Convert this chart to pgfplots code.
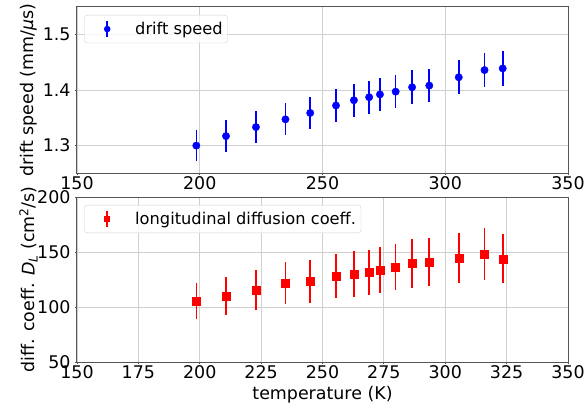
\documentclass[border=0pt]{standalone}
\usepackage{fontspec}
\setmainfont{DejaVu Sans}
\usepackage{pgfplots}
\pgfplotsset{compat=1.18}
\usepackage{pgfplotstable}

\pgfplotstableread{
x y e
198.6 1.2995 0.0285
210.7 1.3167 0.0288
222.9 1.3330 0.0290
234.9 1.3470 0.0292
245.0 1.3585 0.0294
255.5 1.3720 0.0296
262.8 1.3815 0.0298
269.0 1.3870 0.0299
273.4 1.3920 0.0300
279.8 1.3970 0.0301
286.5 1.4050 0.0303
293.5 1.4080 0.0304
305.5 1.4230 0.0306
316.0 1.4360 0.0310
323.4 1.4390 0.0310
}\driftdata

\pgfplotstableread{
x y e
198.6 105.5 16.6
210.7 109.7 17.3
222.9 115.5 17.9
234.9 121.5 19.0
245.0 123.3 19.4
255.5 127.9 20.0
262.8 130.0 20.6
269.0 131.5 20.6
273.4 133.6 21.0
279.8 136.4 21.2
286.5 139.4 22.0
293.5 140.9 22.0
305.5 144.5 22.6
316.0 148.2 23.2
323.4 143.9 22.4
}\diffdata

\definecolor{frame}{HTML}{555555}
\definecolor{gridc}{HTML}{CFCFCF}
\newcommand\tickfont{\fontsize{17.5}{20}\selectfont}
\newcommand\labfont{\fontsize{17.5}{20}\selectfont}
\newcommand\legfont{\fontsize{16.3}{19}\selectfont}

\pgfplotsset{
  common/.style={
    scale only axis,
    width=491bp,
    xmin=150, xmax=350,
    axis line style={frame, line width=1bp},
    grid=major,
    major grid style={gridc, line width=0.8bp},
    tick align=outside,
    major tick length=2bp,
    tick style={frame, line width=0.8bp},
    xtick pos=bottom, ytick pos=left,
    tick label style={font=\tickfont, text=black},
    xticklabel style={yshift=2bp},
    yticklabel style={xshift=-1bp},
    legend cell align=left,
    legend style={
      at={(axis description cs:0.0143,0.952)}, anchor=north west,
      draw=black!18, rounded corners=3bp, fill=white, fill opacity=0.8,
      text opacity=1, inner xsep=3bp, inner ysep=5bp, font=\legfont
    },
  }
}

\begin{document}
\begin{tikzpicture}
\path[use as bounding box] (-77bp,7bp) rectangle (507bp,-402bp);

\begin{axis}[
  common,
  at={(0bp,0bp)}, anchor=north west,
  height=166bp,
  ymin=1.25, ymax=1.55,
  xtick={150,200,250,300,350},
  xticklabels={150,200,250,300,350},
  ytick={1.3,1.4,1.5},
  yticklabels={1.3,1.4,1.5},
  ylabel={drift speed (mm/\textit{μ}s)},
  every axis y label/.style={at={(axis description cs:-0.099,0.5)}, rotate=90, anchor=center, font=\labfont},
]
\addplot[only marks, mark=*, color=blue, mark size=3.7bp,
  mark options={draw=blue, fill=blue},
  legend image code/.code={
    \path[draw=none, fill=none] (0bp,-8bp) rectangle (46bp,8bp);
    \draw[blue, line width=1.6bp, fill opacity=1, draw opacity=1] (20bp,-8bp) -- (20bp,8bp);
    \fill[blue, fill opacity=1, draw=none] (20bp,0bp) circle (3.3bp);
  },
  error bars/.cd, y dir=both, y explicit, error mark=none,
  error bar style={line width=1.6bp, blue}]
  table[x=x, y=y, y error=e] {\driftdata};
\addlegendentry{drift speed}
\end{axis}

\begin{axis}[
  common,
  at={(0bp,-190bp)}, anchor=north west,
  height=165bp,
  ymin=50, ymax=200,
  xtick={150,175,200,225,250,275,300,325,350},
  xticklabels={150,175,200,225,250,275,300,325,350},
  ytick={50,100,150,200},
  yticklabels={50,100,150,200},
  ylabel={diff. coeff. \textit{D}\textsubscript{\textit{L}} (cm\textsuperscript{2}/s)},
  every axis y label/.style={at={(axis description cs:-0.099,0.5)}, rotate=90, anchor=center, font=\labfont},
  xlabel={temperature (K)},
  every axis x label/.style={at={(axis description cs:0.5,-0.2)}, anchor=center, font=\labfont},
]
\addplot[only marks, mark=square*, color=red, mark size=4bp,
  mark options={draw=red, fill=red},
  legend image code/.code={
    \path[draw=none, fill=none] (0bp,-8bp) rectangle (46bp,8bp);
    \draw[red, line width=1.6bp, fill opacity=1, draw opacity=1, sharp corners] (20bp,-8bp) -- (20bp,8bp);
    \fill[red, fill opacity=1, draw=none, sharp corners] (16.8bp,-3.4bp) rectangle (23.2bp,3.4bp);
  },
  error bars/.cd, y dir=both, y explicit, error mark=none,
  error bar style={line width=1.6bp, red}]
  table[x=x, y=y, y error=e] {\diffdata};
\addlegendentry{longitudinal diffusion coeff.}
\end{axis}
\end{tikzpicture}
\end{document}
